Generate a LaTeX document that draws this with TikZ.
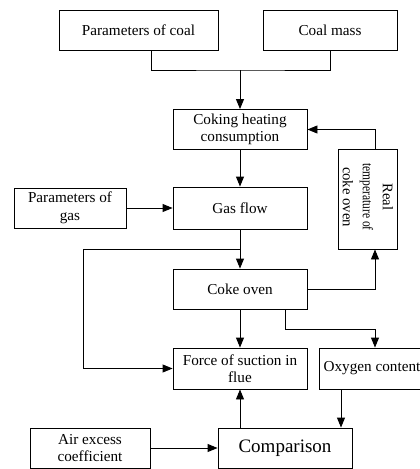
\documentclass[tikz,border=0pt]{standalone}
\usepackage{fontspec}
\setmainfont{Liberation Serif}
\usetikzlibrary{arrows.meta}
\begin{document}
\begin{tikzpicture}[x=1pt,y=-1pt,
  box/.style={draw,line width=0.9pt,rectangle,inner sep=1pt,align=center,
    font=\rmfamily\fontsize{15.2}{17.5}\selectfont},
  flow/.style={line width=0.9pt,-{Triangle[length=10pt,width=8pt]}},
  link/.style={line width=0.9pt}]
\clip (0,0) rectangle (420,469);
\fill[white] (0,0) rectangle (420,469);

% boxes
\node[box,minimum width=159pt,minimum height=40pt] (coal) at (138.5,30) {Parameters of coal};
\node[box,minimum width=134pt,minimum height=40pt] (mass) at (330,30) {Coal mass};
\node[box,minimum width=134pt,minimum height=40pt] (heat) at (240,129.5) {Coking heating\\consumption};
\node[box,minimum width=134pt,minimum height=42pt] (gas) at (240,208) {Gas flow};
\node[box,minimum width=112pt,minimum height=40pt] (pgas) at (70,208) {Parameters of\\gas};
\node[box,minimum width=59pt,minimum height=100pt] (temp) at (367.5,199) {};
\node[rotate=-90,align=center,inner sep=0pt,font=\rmfamily\fontsize{14.7}{20}\selectfont] (templabel) at (368,197) {Real\\\scalebox{0.78}[1]{temperature of}\\coke oven};
\node[box,minimum width=134pt,minimum height=40pt] (oven) at (240,289) {Coke oven};
\node[box,minimum width=134pt,minimum height=41pt] (force) at (240,368.5) {Force of suction in\\flue};
\node[box,minimum width=106pt,minimum height=41pt] (oxy) at (372,368.5) {Oxygen content};
\node[box,minimum width=134pt,minimum height=40pt,font=\rmfamily\fontsize{19}{22}\selectfont] (comp) at (285,448) {Comparison};
\node[box,minimum width=120pt,minimum height=40pt] (air) at (90,448) {Air excess\\coefficient};

% junction points
\coordinate (join) at (240,70);
\coordinate (split) at (240,249);
\coordinate (left) at (83,249);
\coordinate (oxyturn) at (375,329);

% connectors
\draw[link] ([xshift=12.5pt]coal.south) |- (join) -| (mass.south);
\draw[flow] (join) -- (heat.north);
\draw[flow] ([xshift=7.5pt]temp.north) |- (heat.east);
\draw[flow] (heat.south) -- (gas.north);
\draw[flow] (pgas.east) -- (gas.west);
\draw[flow] (gas.south) -- (oven.north);
\draw[flow] (split) -- (left) |- (force.west);
\draw[flow] (oven.east) -| ([xshift=7.5pt]temp.south);
\draw[flow] (oven.south) -- (force.north);
\draw[flow] ([xshift=45pt]oven.south) |- (oxyturn) -- (oxyturn |- oxy.north);
\draw[flow] ([xshift=-31pt]oxy.south) -- ([xshift=56pt]comp.north);
\draw[flow] ([xshift=-45pt]comp.north) -- (force.south);
\draw[flow] (air.east) -- (comp.west);
\end{tikzpicture}
\end{document}
